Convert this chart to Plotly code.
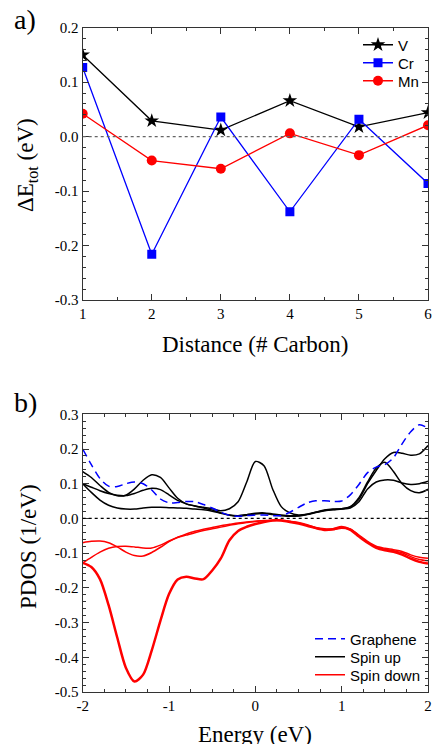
import plotly.graph_objects as go

# ---------------- data: panel a ----------------
distance = [1, 2, 3, 4, 5, 6]
dE_V = [0.150, 0.029, 0.012, 0.066, 0.018, 0.044]
dE_Cr = [0.127, -0.216, 0.036, -0.138, 0.032, -0.086]
dE_Mn = [0.042, -0.044, -0.059, 0.006, -0.034, 0.021]

a_xticks = [1, 2, 3, 4, 5, 6]
a_xlabels = ["1", "2", "3", "4", "5", "6"]
a_yticks = [0.2, 0.1, 0.0, -0.1, -0.2, -0.3]
a_ylabels = ["0.2", "0.1", "0.0", "-0.1", "-0.2", "-0.3"]

# ---------------- data: panel b ----------------
energy = [-2.0, -1.9, -1.8, -1.7, -1.6, -1.5, -1.4, -1.3, -1.2, -1.1,
          -1.0, -0.9, -0.8, -0.7, -0.6, -0.5, -0.4, -0.3, -0.2, -0.1,
          0.0, 0.1, 0.2, 0.3, 0.4, 0.5, 0.6, 0.7, 0.8, 0.9,
          1.0, 1.1, 1.2, 1.3, 1.4, 1.5, 1.6, 1.7, 1.8, 1.9, 2.0]

graphene = [0.200, 0.155, 0.115, 0.093, 0.092, 0.100, 0.105, 0.100, 0.082, 0.056,
            0.045, 0.046, 0.049, 0.048, 0.040, 0.030, 0.018, 0.009, 0.006, 0.008,
            0.010, 0.010, 0.008, 0.008, 0.018, 0.032, 0.045, 0.051, 0.051, 0.049,
            0.050, 0.068, 0.098, 0.132, 0.148, 0.155, 0.175, 0.215, 0.250, 0.270, 0.260]

up_1 = [0.135, 0.118, 0.095, 0.075, 0.065, 0.067, 0.085, 0.110, 0.126, 0.118,
        0.088, 0.058, 0.042, 0.036, 0.032, 0.028, 0.022, 0.028, 0.048, 0.105,
        0.164, 0.152, 0.085, 0.034, 0.016, 0.010, 0.012, 0.018, 0.024, 0.027,
        0.028, 0.034, 0.060, 0.105, 0.145, 0.162, 0.135, 0.100, 0.080, 0.074, 0.084]

up_2 = [0.100, 0.090, 0.080, 0.072, 0.067, 0.066, 0.072, 0.081, 0.087, 0.083,
        0.068, 0.052, 0.042, 0.036, 0.030, 0.024, 0.016, 0.010, 0.008, 0.011,
        0.015, 0.016, 0.013, 0.010, 0.008, 0.008, 0.012, 0.018, 0.023, 0.026,
        0.028, 0.033, 0.055, 0.100, 0.138, 0.172, 0.190, 0.188, 0.182, 0.186, 0.210]

up_3 = [0.100, 0.075, 0.053, 0.038, 0.030, 0.027, 0.027, 0.030, 0.032, 0.032,
        0.031, 0.030, 0.029, 0.027, 0.025, 0.021, 0.015, 0.009, 0.006, 0.009,
        0.013, 0.014, 0.011, 0.008, 0.006, 0.007, 0.011, 0.017, 0.022, 0.025,
        0.027, 0.030, 0.048, 0.085, 0.105, 0.111, 0.110, 0.102, 0.098, 0.100, 0.107]

down_1 = [-0.128, -0.140, -0.175, -0.250, -0.343, -0.430, -0.470, -0.450, -0.380, -0.295,
          -0.218, -0.176, -0.168, -0.173, -0.175, -0.150, -0.115, -0.063, -0.036, -0.024,
          -0.016, -0.010, -0.006, -0.006, -0.010, -0.015, -0.021, -0.028, -0.033, -0.031,
          -0.025, -0.033, -0.052, -0.070, -0.085, -0.092, -0.096, -0.104, -0.116, -0.125, -0.130]

down_2 = [-0.070, -0.066, -0.065, -0.070, -0.082, -0.097, -0.107, -0.108, -0.098, -0.083,
          -0.067, -0.054, -0.045, -0.037, -0.031, -0.026, -0.021, -0.017, -0.013, -0.010,
          -0.008, -0.006, -0.005, -0.005, -0.008, -0.012, -0.018, -0.026, -0.030, -0.030,
          -0.026, -0.030, -0.048, -0.066, -0.080, -0.086, -0.090, -0.095, -0.105, -0.112, -0.115]

down_3 = [-0.128, -0.112, -0.097, -0.086, -0.081, -0.080, -0.082, -0.085, -0.085, -0.077,
          -0.065, -0.055, -0.048, -0.041, -0.035, -0.030, -0.025, -0.020, -0.015, -0.012,
          -0.009, -0.007, -0.006, -0.006, -0.009, -0.013, -0.020, -0.028, -0.032, -0.032,
          -0.028, -0.032, -0.050, -0.068, -0.083, -0.089, -0.093, -0.099, -0.110, -0.118, -0.122]

b_xticks = [-2, -1, 0, 1, 2]
b_xlabels = ["-2", "-1", "0", "1", "2"]
b_yticks = [0.3, 0.2, 0.1, 0.0, -0.1, -0.2, -0.3, -0.4, -0.5]
b_ylabels = ["0.3", "0.2", "0.1", "0.0", "-0.1", "-0.2", "-0.3", "-0.4", "-0.5"]

# ---------------- figure ----------------
W, H = 432, 744
SERIF = "Liberation Serif"
SANS = "Liberation Sans"

fig = go.Figure()

# panel a traces (one legend per entry for exact placement)
fig.add_trace(go.Scatter(x=distance, y=dE_V, mode="lines+markers", name="V",
                         line=dict(color="black", width=1.3),
                         marker=dict(symbol="star", size=11, color="black"),
                         xaxis="x", yaxis="y", legend="legend"))
fig.add_trace(go.Scatter(x=distance, y=dE_Cr, mode="lines+markers", name="Cr",
                         line=dict(color="#0000ff", width=1.3),
                         marker=dict(symbol="square", size=9, color="#0000ff"),
                         xaxis="x", yaxis="y", legend="legend2"))
fig.add_trace(go.Scatter(x=distance, y=dE_Mn, mode="lines+markers", name="Mn",
                         line=dict(color="#ff0000", width=1.3),
                         marker=dict(symbol="circle", size=10, color="#ff0000"),
                         xaxis="x", yaxis="y", legend="legend3"))

# panel b traces
def spin(y, color, width):
    return go.Scatter(x=energy, y=y, mode="lines", showlegend=False,
                      line=dict(color=color, width=width, shape="spline", smoothing=0.8),
                      xaxis="x2", yaxis="y2")

fig.add_trace(spin(up_1, "black", 1.5))
fig.add_trace(spin(up_2, "black", 1.5))
fig.add_trace(spin(up_3, "black", 1.5))
fig.add_trace(spin(down_2, "#ff0000", 1.5))
fig.add_trace(spin(down_3, "#ff0000", 1.5))
fig.add_trace(spin(down_1, "#ff0000", 2.5))
fig.add_trace(go.Scatter(x=energy, y=graphene, mode="lines", name="Graphene",
                         line=dict(color="#0000ff", width=1.5, dash="8px,5px",
                                   shape="spline", smoothing=0.8),
                         xaxis="x2", yaxis="y2", legend="legend4"))
# legend entries for the spin channels
fig.add_trace(go.Scatter(x=[None], y=[None], mode="lines", name="Spin up",
                         line=dict(color="black", width=1.5),
                         xaxis="x2", yaxis="y2", legend="legend5"))
fig.add_trace(go.Scatter(x=[None], y=[None], mode="lines", name="Spin down",
                         line=dict(color="#ff0000", width=1.5),
                         xaxis="x2", yaxis="y2", legend="legend6"))

xdom = [82.7 / W, 428 / W]
ydom_a = [1 - 300 / H, 1 - 27.7 / H]
ydom_b = [1 - 692 / H, 1 - 414.3 / H]

axis_common = dict(showgrid=False, zeroline=False, showline=True, linecolor="#333",
                   linewidth=1.2, mirror="allticks", ticks="inside", ticklen=6,
                   tickwidth=1, tickcolor="#333", automargin=False,
                   ticklabeloverflow="allow",
                   tickfont=dict(family=SERIF, size=15, color="black"))

def leg(xpx, ypx):
    return dict(x=xpx / W, y=1 - ypx / H, xanchor="left", yanchor="middle",
                bgcolor="rgba(0,0,0,0)", borderwidth=0,
                font=dict(family=SANS, size=15, color="black"), itemwidth=30)

fig.update_layout(
    template="none",
    width=W, height=H, autosize=False,
    margin=dict(l=0, r=0, t=0, b=0, pad=0),
    paper_bgcolor="white", plot_bgcolor="white",
    xaxis=dict(domain=xdom, range=[1, 6], anchor="y", tickmode="array",
               tickvals=a_xticks, ticktext=a_xlabels,
               minor=dict(tick0=1, dtick=0.5, ticks="inside", ticklen=3, tickcolor="#333"),
               **axis_common),
    yaxis=dict(domain=ydom_a, range=[-0.3, 0.2], anchor="x", tickmode="array",
               tickvals=a_yticks, ticktext=a_ylabels,
               minor=dict(tick0=0, dtick=0.02, ticks="inside", ticklen=3, tickcolor="#333"),
               **axis_common),
    xaxis2=dict(domain=xdom, range=[-2, 2], anchor="y2", tickmode="array",
                tickvals=b_xticks, ticktext=b_xlabels,
                minor=dict(tick0=0, dtick=0.25, ticks="inside", ticklen=3, tickcolor="#333"),
                **axis_common),
    yaxis2=dict(domain=ydom_b, range=[-0.5, 0.3], anchor="x2", tickmode="array",
                tickvals=b_yticks, ticktext=b_ylabels,
                minor=dict(tick0=0, dtick=0.02, ticks="inside", ticklen=3, tickcolor="#333"),
                **axis_common),
    legend=leg(358, 45),
    legend2=leg(358, 63),
    legend3=leg(358, 81),
    legend4=leg(310, 639),
    legend5=leg(310, 657),
    legend6=leg(310, 675),
    showlegend=True,
)

# zero reference lines
fig.add_shape(type="line", x0=0, x1=1, xref="x domain", y0=0, y1=0, yref="y",
              line=dict(color="#666", width=1.2, dash="dot"))
fig.add_shape(type="line", x0=0, x1=1, xref="x2 domain", y0=0, y1=0, yref="y2",
              line=dict(color="black", width=1.2, dash="dot"))

# titles and panel labels
ann = [
    dict(text="Distance (# Carbon)", x=255 / W, y=1 - 345 / H, size=23, angle=0),
    dict(text="ΔE<sub>tot</sub> (eV)", x=27 / W, y=1 - 165 / H, size=23, angle=-90),
    dict(text="Energy (eV)", x=255 / W, y=1 - 734 / H, size=23, angle=0),
    dict(text="PDOS (1/eV)", x=28 / W, y=1 - 547 / H, size=23, angle=-90),
    dict(text="a)", x=25 / W, y=1 - 20 / H, size=28, angle=0),
    dict(text="b)", x=25 / W, y=1 - 402 / H, size=28, angle=0),
]
for a in ann:
    fig.add_annotation(text=a["text"], x=a["x"], y=a["y"], xref="paper", yref="paper",
                       xanchor="center", yanchor="middle", showarrow=False,
                       textangle=a["angle"],
                       font=dict(family=SERIF, size=a["size"], color="black"))

fig.write_html("out.html", config={"displayModeBar": False},
               post_script="document.body.style.margin='0';"
                           "document.body.style.overflow='hidden';"
                           "document.documentElement.style.overflow='hidden';")
